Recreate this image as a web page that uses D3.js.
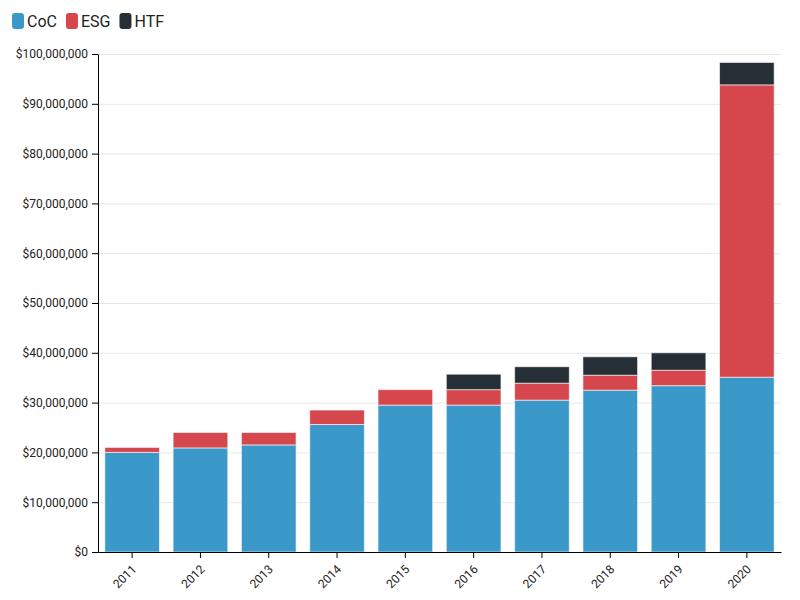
<!DOCTYPE html>
<html>
<head>
<meta charset="utf-8">
<script src="https://cdn.jsdelivr.net/npm/d3@7"></script>
<style>
  body { margin: 0; background: #fff; font-family: Roboto, sans-serif; }
  .grid line { stroke: #e8e8e8; }
  .grid .domain { display: none; }
</style>
</head>
<body>
<svg id="chart" width="800" height="600"></svg>
<script>
// dati
var years = ["2011", "2012", "2013", "2014", "2015", "2016", "2017", "2018", "2019", "2020"];
var seriesNames = ["CoC", "ESG", "HTF"];
var coc = [20000000, 20900000, 21500000, 25600000, 29500000, 29500000, 30500000, 32500000, 33400000, 35100000];
var esg = [1000000, 3100000, 2500000, 2900000, 3100000, 3100000, 3400000, 3000000, 3100000, 58700000];
var htf = [0, 0, 0, 0, 0, 3100000, 3300000, 3700000, 3500000, 4500000];
var colors = ["#3a99c9", "#d5464d", "#262e36"];

var margin = {top: 54, right: 19, bottom: 48, left: 98};
var width = 800 - margin.left - margin.right;
var height = 600 - margin.top - margin.bottom;

var svg = d3.select("#chart");
var g = svg.append("g").attr("transform", "translate(" + margin.left + "," + margin.top + ")");

// tabella per lo stack
var table = years.map(function(y, i) {
  return {year: y, CoC: coc[i], ESG: esg[i], HTF: htf[i]};
});
var stacked = d3.stack().keys(seriesNames)(table);

var xScale = d3.scaleBand()
  .domain(years)
  .range([0, width])
  .paddingInner(0.2)
  .paddingOuter(0.1);

var yScale = d3.scaleLinear()
  .domain([0, 100000000])
  .range([height, 0]);

// griglia
g.append("g")
  .attr("class", "grid")
  .call(d3.axisLeft(yScale).ticks(10).tickSize(-width).tickFormat(""));

// barre
g.selectAll("g.serie")
  .data(stacked)
  .enter()
  .append("g")
  .attr("class", "serie")
  .attr("fill", function(d, i) { return colors[i]; })
  .selectAll("rect")
  .data(function(d) { return d; })
  .enter()
  .append("rect")
  .filter(function(d) { return d[1] - d[0] > 0; })
  .attr("x", function(d) { return xScale(d.data.year); })
  .attr("y", function(d) { return yScale(d[1]); })
  .attr("width", xScale.bandwidth())
  .attr("height", function(d) { return yScale(d[0]) - yScale(d[1]); })
  .attr("stroke", "#fff")
  .attr("stroke-opacity", 0.6)
  .attr("stroke-width", 1);

// assi
g.append("g")
  .call(d3.axisLeft(yScale).ticks(10).tickFormat(d3.format("$,")).tickSizeOuter(0).tickPadding(4))
  .call(function(a) {
    a.selectAll("text").attr("font-family", "Roboto, sans-serif").attr("font-size", 12).attr("fill", "#222");
  });

g.append("g")
  .attr("transform", "translate(0," + height + ")")
  .call(d3.axisBottom(xScale).tickSizeOuter(0))
  .call(function(a) {
    a.selectAll("text")
      .attr("font-family", "Roboto, sans-serif")
      .attr("font-size", 12)
      .attr("fill", "#222")
      .attr("text-anchor", "end")
      .attr("x", 0)
      .attr("y", 0)
      .attr("dy", 0)
      .attr("transform", "translate(5,18) rotate(-45)");
  });

// legenda
var legend = svg.append("g").attr("transform", "translate(12,13)");
var lx = 0;
seriesNames.forEach(function(name, i) {
  var item = legend.append("g").attr("transform", "translate(" + lx + ",0)");
  item.append("rect")
    .attr("width", 12).attr("height", 16).attr("rx", 3)
    .attr("fill", colors[i]);
  var t = item.append("text")
    .attr("x", 15).attr("y", 14)
    .attr("font-family", "Roboto, sans-serif")
    .attr("font-size", 16)
    .attr("fill", "#222")
    .text(name);
  lx += 15 + t.node().getComputedTextLength() + 9;
});
</script>
</body>
</html>
